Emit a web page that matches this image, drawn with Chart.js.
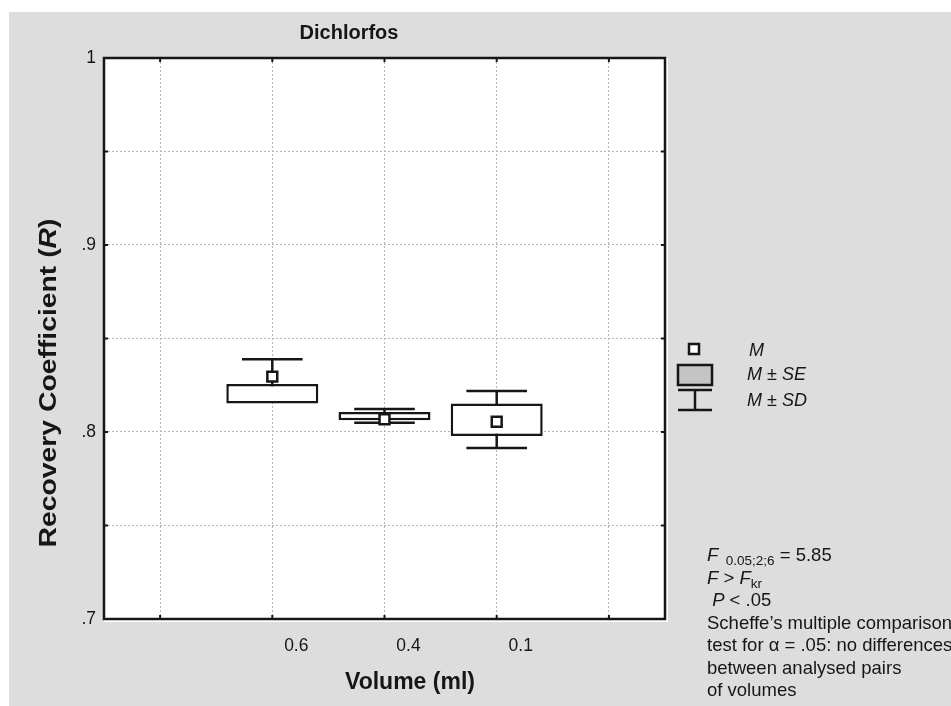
<!DOCTYPE html>
<html>
<head>
<meta charset="utf-8">
<script src="https://cdn.jsdelivr.net/npm/chart.js@4.4.1/dist/chart.umd.min.js"></script>
<style>
html, body { margin: 0; padding: 0; background: #fff; }
canvas { display: block; }
</style>
</head>
<body>
<canvas id="dichlorfos" width="951" height="706"></canvas>
<script>
// categories (empty slots left and right, like the original axis)
const volumes = ['', '0.6', '0.4', '0.1', ''];
// mean, mean +- SE (box), mean +- SD (whiskers)
const means  = [null, 0.8296, 0.8068, 0.8055, null];
const seLow  = [null, 0.8153, 0.8063, 0.7979, null];
const seHigh = [null, 0.8257, 0.8107, 0.8153, null];
const sdLow  = [null, 0.8203, 0.8050, 0.7914, null];
const sdHigh = [null, 0.8389, 0.8123, 0.8219, null];
const yTicks = [0.7, 0.75, 0.8, 0.85, 0.9, 0.95, 1];

const FONT = "'Liberation Sans', Arial, sans-serif";
const INK = '#161616';

// draw a line made of several runs (italic, subscript ...)
function runs(ctx, x, y, parts) {
    ctx.textAlign = 'left';
    ctx.textBaseline = 'alphabetic';
    parts.forEach(p => {
        ctx.font = p.font;
        ctx.fillText(p.t, x, y + (p.dy || 0));
        x += ctx.measureText(p.t).width;
    });
}

const boxPlot = {
    id: 'boxPlot',
    beforeDraw(c) {
        const ctx = c.ctx, a = c.chartArea;
        ctx.save();
        ctx.fillStyle = '#fff';
        ctx.fillRect(0, 0, c.width, c.height);
        ctx.fillStyle = '#dddddd';
        ctx.fillRect(9, 12, c.width - 9, c.height - 12);
        ctx.fillStyle = '#fff';
        ctx.fillRect(a.left, a.top, a.width + 3, a.height + 3);
        ctx.restore();
    },
    beforeDatasetsDraw(c) {
        // whiskers M +- SD, boxes are drawn over them
        const ctx = c.ctx, x = c.scales.x, y = c.scales.y;
        ctx.save();
        ctx.strokeStyle = INK;
        ctx.lineWidth = 2.5;
        volumes.forEach((v, i) => {
            if (sdLow[i] == null) return;
            const cx = x.getPixelForValue(i);
            const half = x.width / volumes.length * 0.27;
            const yl = y.getPixelForValue(sdLow[i]);
            const yh = y.getPixelForValue(sdHigh[i]);
            ctx.beginPath();
            ctx.moveTo(cx, yh); ctx.lineTo(cx, yl);
            ctx.moveTo(cx - half, yh); ctx.lineTo(cx + half, yh);
            ctx.moveTo(cx - half, yl); ctx.lineTo(cx + half, yl);
            ctx.stroke();
        });
        ctx.restore();
    },
    afterDraw(c) {
        const ctx = c.ctx, a = c.chartArea, x = c.scales.x, y = c.scales.y;
        ctx.save();
        // frame + inward tick marks
        ctx.strokeStyle = INK;
        ctx.lineWidth = 2.5;
        ctx.strokeRect(a.left, a.top, a.width, a.height);
        ctx.lineWidth = 2;
        ctx.beginPath();
        x.ticks.forEach((t, i) => {
            const px = x.getPixelForTick(i);
            ctx.moveTo(px, a.bottom); ctx.lineTo(px, a.bottom - 4);
            ctx.moveTo(px, a.top); ctx.lineTo(px, a.top + 4);
        });
        y.ticks.forEach((t, i) => {
            const py = y.getPixelForTick(i);
            ctx.moveTo(a.left, py); ctx.lineTo(a.left + 4, py);
            ctx.moveTo(a.right, py); ctx.lineTo(a.right - 4, py);
        });
        ctx.stroke();

        ctx.fillStyle = INK;
        // title
        ctx.font = 'bold 20px ' + FONT;
        ctx.textAlign = 'center';
        ctx.textBaseline = 'middle';
        ctx.fillText('Dichlorfos', 349, 33);
        // x title
        ctx.font = 'bold 23px ' + FONT;
        ctx.fillText('Volume (ml)', 410, 683);
        // y title, rotated and a little stretched along its length
        ctx.save();
        ctx.translate(47, 383);
        ctx.rotate(-Math.PI / 2);
        ctx.scale(1.18, 1);
        const yParts = [
            { t: 'Recovery Coefficient (', font: 'bold 24px ' + FONT },
            { t: 'R', font: 'italic bold 24px ' + FONT },
            { t: ')', font: 'bold 24px ' + FONT }
        ];
        let w = 0;
        yParts.forEach(p => { ctx.font = p.font; w += ctx.measureText(p.t).width; });
        runs(ctx, -w / 2, 9, yParts);
        ctx.restore();

        // legend
        const lx = a.right;
        ctx.lineWidth = 2.5;
        ctx.strokeStyle = INK;
        ctx.fillStyle = '#fff';
        ctx.fillRect(lx + 24, 344, 10, 10);
        ctx.strokeRect(lx + 24, 344, 10, 10);
        ctx.fillStyle = '#c4c4c4';
        ctx.fillRect(lx + 13, 365, 34, 20);
        ctx.strokeRect(lx + 13, 365, 34, 20);
        ctx.beginPath();
        ctx.moveTo(lx + 13, 390); ctx.lineTo(lx + 47, 390);
        ctx.moveTo(lx + 30, 390); ctx.lineTo(lx + 30, 410);
        ctx.moveTo(lx + 13, 410); ctx.lineTo(lx + 47, 410);
        ctx.stroke();
        ctx.fillStyle = INK;
        const it = 'italic 18px ' + FONT, rg = '18px ' + FONT;
        runs(ctx, lx + 84, 356, [{ t: 'M', font: it }]);
        runs(ctx, lx + 82, 380, [{ t: 'M', font: it }, { t: ' ± ', font: rg }, { t: 'SE', font: it }]);
        runs(ctx, lx + 82, 406, [{ t: 'M', font: it }, { t: ' ± ', font: rg }, { t: 'SD', font: it }]);

        // test notes
        const nit = 'italic 18.5px ' + FONT, nrg = '18.5px ' + FONT, sm = '13.5px ' + FONT;
        const tx = lx + 42;
        let ty = 561;
        const lines = [
            [{ t: 'F', font: nit }, { t: '  0.05;2;6', font: sm, dy: 4 }, { t: ' = 5.85', font: nrg }],
            [{ t: 'F', font: nit }, { t: ' > ', font: nrg }, { t: 'F', font: nit }, { t: 'kr', font: sm, dy: 4 }],
            [{ t: ' ', font: nrg }, { t: 'P', font: nit }, { t: ' < .05', font: nrg }],
            [{ t: 'Scheffe\u2019s multiple comparison', font: nrg }],
            [{ t: 'test for \u03b1 = .05: no differences', font: nrg }],
            [{ t: 'between analysed pairs', font: nrg }],
            [{ t: 'of volumes', font: nrg }]
        ];
        lines.forEach(l => { runs(ctx, tx, ty, l); ty += 22.5; });
        ctx.restore();
    }
};

new Chart('dichlorfos', {
    type: 'bar',
    data: {
        labels: volumes,
        datasets: [{
            label: 'M ± SE',
            data: seLow.map((l, i) => l == null ? null : [l, seHigh[i]]),
            backgroundColor: '#fff',
            borderColor: INK,
            borderWidth: 2.5,
            borderSkipped: false,
            categoryPercentage: 1,
            barPercentage: 0.82,
            order: 2
        }, {
            type: 'line',
            label: 'M',
            data: means,
            showLine: false,
            pointStyle: 'rect',
            pointRadius: 7,
            pointBackgroundColor: '#fff',
            pointBorderColor: INK,
            pointBorderWidth: 2.5,
            order: 1
        }]
    },
    options: {
        responsive: false,
        animation: false,
        layout: { padding: { left: 0, top: 58, right: 286, bottom: 0 } },
        plugins: {
            legend: { display: false },
            tooltip: { enabled: false }
        },
        scales: {
            x: {
                type: 'category',
                offset: true,
                grid: { offset: false, color: '#b4b4b4', drawTicks: false },
                border: { display: false, dash: [2, 2] },
                ticks: { color: INK, font: { family: FONT, size: 17.5 }, padding: 17, labelOffset: 24, maxRotation: 0 },
                afterFit: s => { s.height = 87; }
            },
            y: {
                min: 0.7,
                max: 1,
                grid: { color: '#b4b4b4', drawTicks: false },
                border: { display: false, dash: [2, 2] },
                afterBuildTicks: s => { s.ticks = yTicks.map(v => ({ value: v })); },
                ticks: {
                    color: INK,
                    font: { family: FONT, size: 17.5 },
                    padding: 8,
                    callback: v => {
                        const r = Math.round(v * 10) / 10;
                        if (Math.abs(v - r) > 1e-6) return '';
                        return r === 1 ? '1' : String(r).replace(/^0/, '');
                    }
                },
                afterFit: s => { s.width = 104; }
            }
        }
    },
    plugins: [boxPlot]
});
</script>
</body>
</html>
